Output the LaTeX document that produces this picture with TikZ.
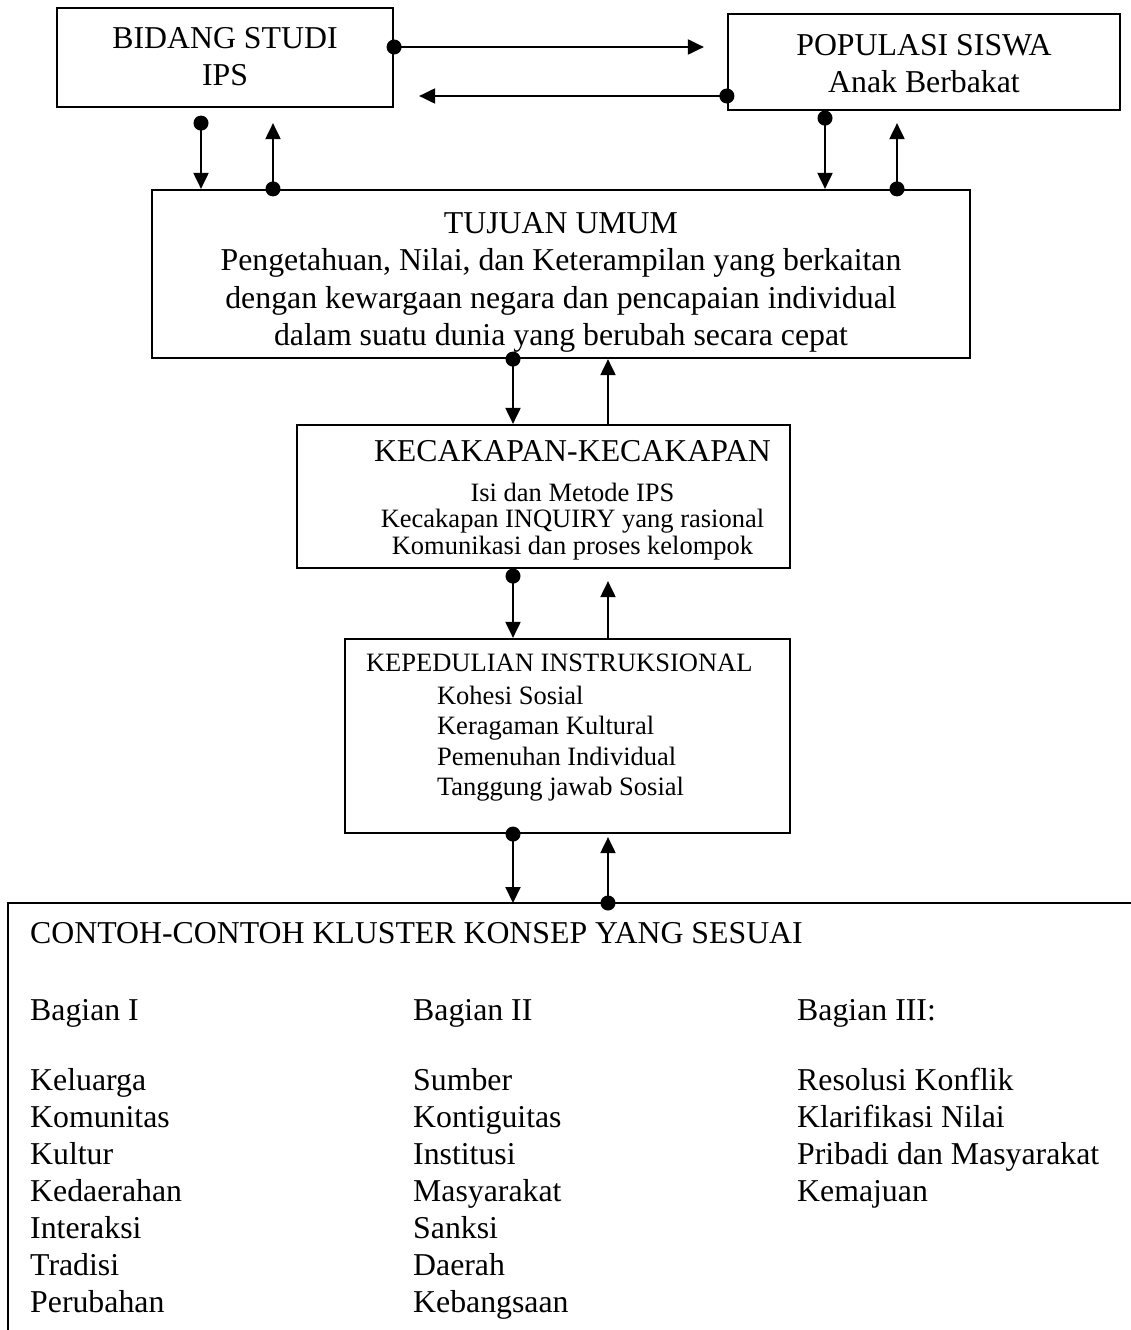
\documentclass[tikz,border=0pt]{standalone}
\usepackage{fontspec}
\setmainfont{Liberation Serif}
\usetikzlibrary{arrows.meta}
\usetikzlibrary{positioning}

\begin{document}
\begin{tikzpicture}[x=1pt, y=-1pt,
    box/.style={rectangle, draw=black, line width=2.2pt, inner sep=0pt},
    bigtext/.style={font=\fontsize{31.8}{37.5}\selectfont, inner sep=0pt},
    smalltext/.style={font=\fontsize{26.5}{26.5}\selectfont, inner sep=0pt},
    link/.style={line width=2pt, -{Triangle[length=16pt, width=15pt]}},
    dotlink/.style={line width=2pt, {Circle[length=15pt]}-{Triangle[length=16pt, width=15pt]}, shorten <=-7.5pt}]
    \useasboundingbox (0,0) rectangle (1130,1330);

    \node [box, minimum width=336pt, minimum height=99pt] (bidang) at (225,57.5) {};
    \node [bigtext, align=center, anchor=north] (bidang_txt) at ([yshift=-20pt]bidang.north) {BIDANG STUDI\\IPS};
    \node [box, minimum width=392pt, minimum height=96pt] (populasi) at (924,62) {};
    \node [bigtext, align=center, anchor=north] (populasi_txt) at ([yshift=-21pt]populasi.north) {POPULASI SISWA\\Anak Berbakat};
    \node [box, minimum width=818pt, minimum height=168pt] (tujuan) at (561,274) {};
    \node [bigtext, align=center, anchor=north] (tujuan_txt) at ([yshift=-23pt]tujuan.north) {TUJUAN UMUM\\Pengetahuan, Nilai, dan Keterampilan yang berkaitan\\dengan kewargaan negara dan pencapaian individual\\dalam suatu dunia yang berubah secara cepat};
    \node [box, minimum width=493pt, minimum height=143pt] (kecakapan) at (543.5,496.5) {};
    \begin{scope}
        \clip (kecakapan.north west) rectangle ([yshift=10pt]kecakapan.south east);
        \node [bigtext, anchor=base] (kecakapan_txt) at ([xshift=29pt, yshift=-38pt]kecakapan.north) {KECAKAPAN-KECAKAPAN};
        \node [smalltext, align=center, anchor=north] (kecakapan_list) at ([xshift=29pt, yshift=-59pt]kecakapan.north) {Isi dan Metode IPS\\Kecakapan INQUIRY yang rasional\\Komunikasi dan proses kelompok};
    \end{scope}
    \node [box, minimum width=445pt, minimum height=194pt] (peduli) at (567.5,736) {};
    \node [smalltext, anchor=base west] (peduli_txt) at ([xshift=22pt, yshift=-34pt]peduli.north west) {KEPEDULIAN INSTRUKSIONAL};
    \node [smalltext, align=left, anchor=north west, font=\fontsize{26.5}{30.5}\selectfont] (peduli_list) at ([xshift=93pt, yshift=-48pt]peduli.north west) {Kohesi Sosial\\Keragaman Kultural\\Pemenuhan Individual\\Tanggung jawab Sosial};

    % bagian bawah, kotak terbuka
    \coordinate (contoh) at (8,903);
    \draw [line width=2.2pt] (8,1340) -- (contoh) -- (1140,903);
    \node [bigtext, anchor=base west] (contoh_txt) at ([xshift=22pt, yshift=-40pt]contoh) {CONTOH-CONTOH KLUSTER KONSEP YANG SESUAI};
    \node [bigtext, anchor=base west] (bagian1) at ([xshift=22pt, yshift=-117pt]contoh) {Bagian I};
    \node [bigtext, anchor=base west] (bagian2) at ([xshift=405pt, yshift=-117pt]contoh) {Bagian II};
    \node [bigtext, anchor=base west] (bagian3) at ([xshift=789pt, yshift=-117pt]contoh) {Bagian III:};
    \node [bigtext, align=left, anchor=north west, font=\fontsize{31.8}{37}\selectfont] (list1) at ([xshift=22pt, yshift=-165pt]contoh) {Keluarga\\Komunitas\\Kultur\\Kedaerahan\\Interaksi\\Tradisi\\Perubahan};
    \node [bigtext, align=left, anchor=north west, font=\fontsize{31.8}{37}\selectfont] (list2) at ([xshift=405pt, yshift=-165pt]contoh) {Sumber\\Kontiguitas\\Institusi\\Masyarakat\\Sanksi\\Daerah\\Kebangsaan};
    \node [bigtext, align=left, anchor=north west, font=\fontsize{31.8}{37}\selectfont] (list3) at ([xshift=789pt, yshift=-165pt]contoh) {Resolusi Konflik\\Klarifikasi Nilai\\Pribadi dan Masyarakat\\Kemajuan};

    % panah antar kotak
    \coordinate (bp) at ([yshift=10.5pt]bidang.east);
    \draw [dotlink, shorten >=23pt] (bp) -- (bp -| populasi.west);
    \coordinate (pb) at ([yshift=-34pt]populasi.west);
    \draw [dotlink, shorten >=25pt] (pb) -- (pb -| bidang.east);

    \coordinate (b_dn) at ([xshift=-24pt, yshift=-15pt]bidang.south);
    \draw [dotlink] (b_dn) -- (b_dn |- tujuan.north);
    \coordinate (b_up) at ([xshift=48pt, yshift=-15pt]bidang.south);
    \draw [dotlink] (b_up |- tujuan.north) -- (b_up);
    \coordinate (p_dn) at ([xshift=-99pt, yshift=-7pt]populasi.south);
    \draw [dotlink] (p_dn) -- (p_dn |- tujuan.north);
    \coordinate (p_up) at ([xshift=-27pt, yshift=-12pt]populasi.south);
    \draw [dotlink] (p_up |- tujuan.north) -- (p_up);

    \coordinate (t_dn) at ([xshift=-48pt]tujuan.south);
    \draw [dotlink] (t_dn) -- (t_dn |- kecakapan.north);
    \coordinate (t_up) at ([xshift=47pt]tujuan.south);
    \draw [link] (t_up |- kecakapan.north) -- (t_up);

    \coordinate (k_dn) at ([xshift=-30.5pt, yshift=-7pt]kecakapan.south);
    \draw [dotlink] (k_dn) -- (k_dn |- peduli.north);
    \coordinate (k_up) at ([xshift=64.5pt, yshift=-12pt]kecakapan.south);
    \draw [link] (k_up |- peduli.north) -- (k_up);

    \coordinate (d_dn) at ([xshift=-54.5pt]peduli.south);
    \draw [dotlink] (d_dn) -- (d_dn |- contoh);
    \coordinate (d_up) at ([xshift=40.5pt, yshift=-3pt]peduli.south);
    \draw [dotlink] (d_up |- contoh) -- (d_up);
\end{tikzpicture}
\end{document}
